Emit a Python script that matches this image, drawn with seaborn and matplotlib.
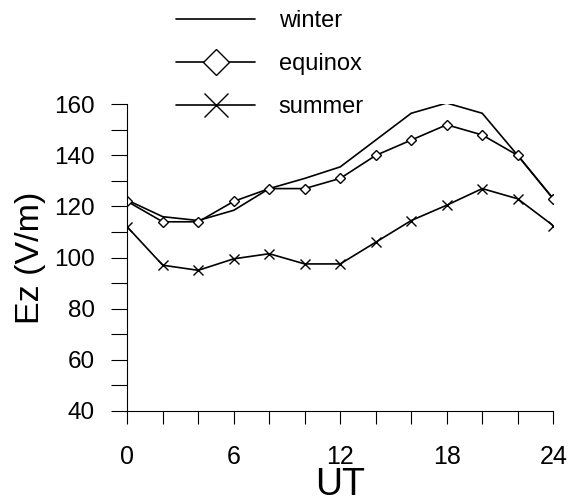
import matplotlib
matplotlib.use('Agg')
import matplotlib.pyplot as plt
import seaborn as sns
from matplotlib.ticker import MultipleLocator

# UT hours and the three seasonal Ez curves (V/m)
ut = [0, 2, 4, 6, 8, 10, 12, 14, 16, 18, 20, 22, 24]
winter = [122.5, 116, 114.5, 118.5, 127, 131, 135.5, 146, 156.5, 160.5, 156.5, 140, 123]
equinox = [122, 114, 114, 122, 127, 127, 131, 140, 146, 152, 148, 140, 123]
summer = [112, 97, 95, 99.5, 101.5, 97.5, 97.5, 106, 114.5, 120.5, 127, 123, 112.5]

sns.set_style('ticks')
plt.rcParams['font.family'] = ['Liberation Sans', 'DejaVu Sans']
# seaborn greys out text; the original figure is plain black
plt.rcParams.update({'text.color': 'black', 'axes.labelcolor': 'black',
                     'xtick.color': 'black', 'ytick.color': 'black'})

fig = plt.figure(figsize=(5.68, 5.04), dpi=100)
ax = fig.add_axes([0.224, 0.185, 0.75, 0.608])

sns.lineplot(x=ut, y=winter, color='black', linewidth=1.2, label='winter', ax=ax)
sns.lineplot(x=ut, y=equinox, color='black', linewidth=1.2, marker='D', markersize=5.5,
             mfc='white', mec='black', mew=1.0, label='equinox', ax=ax)
sns.lineplot(x=ut, y=summer, color='black', linewidth=1.2, marker='x', markersize=7,
             mec='black', mew=1.0, label='summer', ax=ax)

ax.set_xlim(0, 24)
ax.set_ylim(40, 160)
ax.xaxis.set_major_locator(MultipleLocator(6))
ax.xaxis.set_minor_locator(MultipleLocator(2))
ax.yaxis.set_major_locator(MultipleLocator(20))
ax.yaxis.set_minor_locator(MultipleLocator(10))
ax.tick_params(axis='y', which='both', direction='out', length=11.5, width=0.8, pad=12,
               labelsize=17.5, color='black')
ax.tick_params(axis='x', which='both', direction='out', length=9.5, width=0.8, pad=15,
               labelsize=18, color='black')
sns.despine(ax=ax)
for s in ['left', 'bottom']:
    ax.spines[s].set_linewidth(0.8)
    ax.spines[s].set_color('black')

ax.set_xlabel('UT', fontsize=27, labelpad=-1)
ax.set_ylabel('Ez (V/m)', fontsize=24.5, labelpad=6)

leg = ax.legend(loc='upper left', bbox_to_anchor=(0.289, 1.004), bbox_transform=fig.transFigure,
                frameon=False, fontsize=17, handlelength=3.35, handletextpad=1.0,
                labelspacing=0.9, borderpad=0, markerscale=2.4)

fig.savefig('out.png', dpi=100)
